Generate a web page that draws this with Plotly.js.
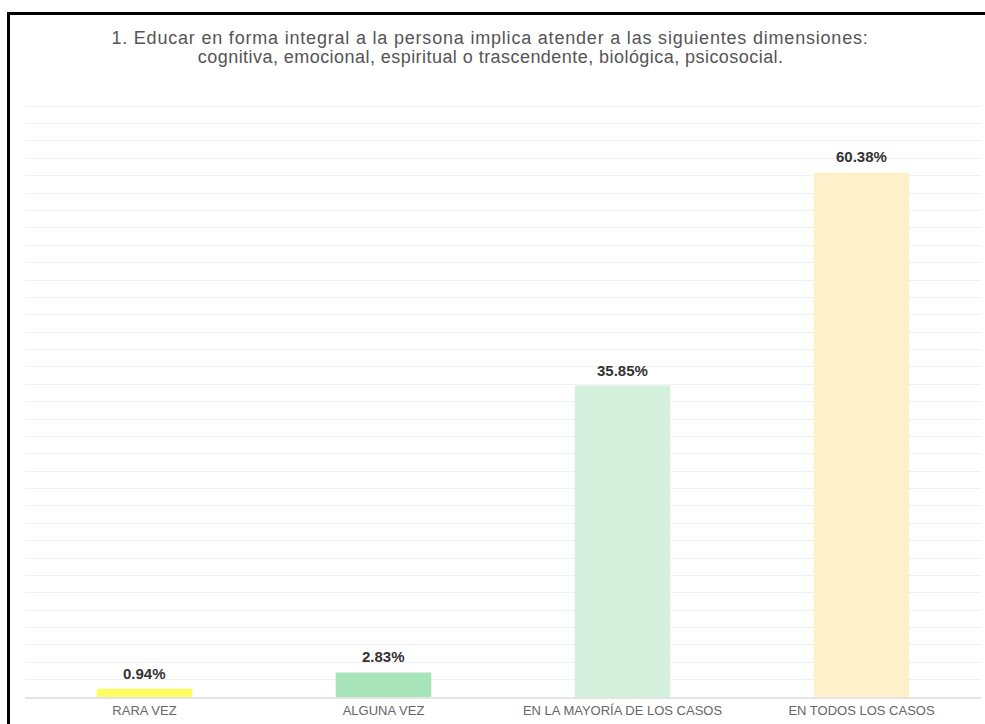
<!DOCTYPE html>
<html>
<head>
<meta charset="utf-8">
<script src="https://cdn.plot.ly/plotly-3.0.1.min.js"></script>
<style>
html,body{margin:0;padding:0;background:#fff;}
#wrap{position:relative;width:985px;height:724px;overflow:hidden;}
#chart{position:absolute;left:0;top:0;width:985px;height:724px;}
#frame{position:absolute;left:7px;top:12px;width:990px;height:720px;border-left:3px solid #000;border-top:3px solid #000;pointer-events:none;}
#chart .gtitle{letter-spacing:0.8px;}
#chart .annotation[data-index="4"] text{letter-spacing:0.45px;}
</style>
</head>
<body>
<div id="wrap"><div id="chart"></div><div id="frame"></div></div>
<script>
const categories = ["RARA VEZ", "ALGUNA VEZ", "EN LA MAYORÍA DE LOS CASOS", "EN TODOS LOS CASOS"];
const values = [0.94, 2.83, 35.85, 60.38];
const labels = ["0.94%", "2.83%", "35.85%", "60.38%"];
const barColors = ["#fdfd60", "#a8e4b9", "#d5f0dc", "#fdf1cc"];
const titleLine1 = "1. Educar en forma integral a la persona implica atender a las siguientes dimensiones:";
const titleLine2 = "cognitiva, emocional, espiritual o trascendente, biológica, psicosocial.";

const FONT = "Liberation Sans, Arial, sans-serif";

const trace = {
  type: "bar",
  x: categories,
  y: values,
  marker: {color: barColors},
  width: 0.4,
  hoverinfo: "none"
};

const annotations = categories.map((c, i) => ({
  x: c, y: values[i], xref: "x", yref: "y",
  text: labels[i], showarrow: false,
  yanchor: "bottom", yshift: 5,
  font: {family: FONT, size: 15, color: "#333333", weight: "bold"}
}));

// second title line (tighter line spacing than Plotly's multi-line title)
annotations.push({
  text: titleLine2, showarrow: false,
  xref: "paper", yref: "paper",
  x: (490 - 25) / 956, xanchor: "center",
  y: 1 + (88 - 57) / 609, yanchor: "middle",
  font: {family: FONT, size: 18, color: "#555555"}
});

const layout = {
  width: 985, height: 724,
  margin: {l: 25, r: 4, t: 88, b: 27, pad: 0},
  paper_bgcolor: "#ffffff", plot_bgcolor: "#ffffff",
  title: {
    text: titleLine1,
    font: {family: FONT, size: 18, color: "#555555"},
    x: 490 / 985, xref: "container", xanchor: "center",
    y: 1 - 38 / 724, yref: "container", yanchor: "middle"
  },
  showlegend: false,
  xaxis: {
    type: "category",
    showgrid: false,
    showline: true, linecolor: "#e4e4e4", linewidth: 2,
    ticks: "",
    tickfont: {family: FONT, size: 13, color: "#666666"},
    fixedrange: true
  },
  yaxis: {
    range: [0, 70.1], dtick: 2,
    showgrid: true, gridcolor: "#f0f0f0", gridwidth: 1,
    zeroline: false,
    showticklabels: false, ticks: "",
    fixedrange: true
  },
  annotations: annotations
};

Plotly.newPlot("chart", [trace], layout, {displayModeBar: false, staticPlot: true});
</script>
</body>
</html>
